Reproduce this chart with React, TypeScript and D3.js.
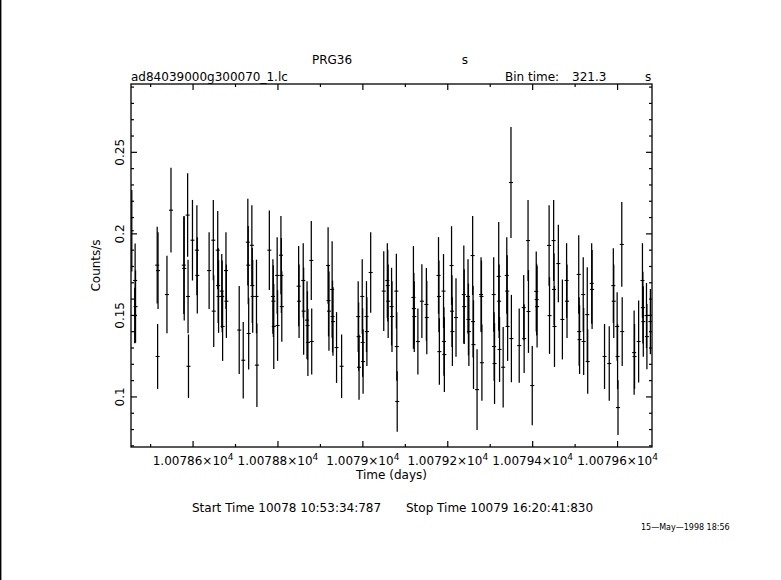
import React, { useEffect, useRef } from 'react'
import * as d3 from 'd3'

// light curve, one entry per time bin (days, counts/s, 1 sigma)
const times = [
  10078.4557, 10078.4625, 10078.4635, 10078.4645, 10078.5155, 10078.5165, 10078.5175, 10078.5385,
  10078.5480, 10078.5782, 10078.5792, 10078.5872, 10078.5882, 10078.5892, 10078.5986, 10078.6090,
  10078.6100, 10078.6378, 10078.6477, 10078.6487, 10078.6581, 10078.6591, 10078.6601, 10078.6676,
  10078.6686, 10078.6696, 10078.6775, 10078.6785, 10078.7087, 10078.7182, 10078.7290, 10078.7300,
  10078.7310, 10078.7385, 10078.7395, 10078.7405, 10078.7494, 10078.7504, 10078.7797, 10078.7881,
  10078.7891, 10078.7901, 10078.7981, 10078.7991, 10078.8070, 10078.8080, 10078.8090, 10078.8487,
  10078.8497, 10078.8595, 10078.8605, 10078.8685, 10078.8695, 10078.8705, 10078.8785, 10078.8795,
  10078.9181, 10078.9191, 10078.9201, 10078.9276, 10078.9286, 10078.9296, 10078.9380, 10078.9499,
  10078.9890, 10078.9900, 10078.9910, 10078.9985, 10078.9995, 10079.0005, 10079.0085, 10079.0095,
  10079.0184, 10079.0492, 10079.0576, 10079.0586, 10079.0596, 10079.0676, 10079.0686, 10079.0789,
  10079.0799, 10079.0809, 10079.1191, 10079.1201, 10079.1211, 10079.1296, 10079.1390, 10079.1496,
  10079.1506, 10079.1782, 10079.1792, 10079.1802, 10079.1900, 10079.1910, 10079.1920, 10079.2089,
  10079.2099, 10079.2109, 10079.2194, 10079.2378, 10079.2388, 10079.2477, 10079.2487, 10079.2497,
  10079.2586, 10079.2596, 10079.2606, 10079.2690, 10079.2784, 10079.2794, 10079.2804, 10079.3082,
  10079.3092, 10079.3102, 10079.3200, 10079.3210, 10079.3220, 10079.3305, 10079.3390, 10079.3400,
  10079.3410, 10079.3489, 10079.3499, 10079.3683, 10079.3789, 10079.3799, 10079.3891, 10079.3901,
  10079.3990, 10079.4084, 10079.4094, 10079.4104, 10079.4387, 10079.4397, 10079.4494, 10079.4504,
  10079.4514, 10079.4605, 10079.4700, 10079.4799, 10079.4809, 10079.5085, 10079.5095, 10079.5105,
  10079.5191, 10079.5201, 10079.5286, 10079.5296, 10079.5390, 10079.5400, 10079.5693, 10079.5804,
  10079.5900, 10079.5910, 10079.5990, 10079.6000, 10079.6010, 10079.6099, 10079.6109, 10079.6390,
  10079.6400, 10079.6496, 10079.6586, 10079.6596, 10079.6606, 10079.6681, 10079.6691, 10079.6773,
]

const rates = [
  0.2019, 0.1499, 0.1714, 0.1554, 0.1808, 0.1248, 0.1775, 0.1628,
  0.2145, 0.1808, 0.1788, 0.2115, 0.1616, 0.1188, 0.1961, 0.1900,
  0.1745, 0.1775, 0.1961, 0.1526, 0.1900, 0.1683, 0.1616, 0.1649,
  0.1616, 0.1432, 0.1775, 0.1587, 0.1410, 0.1225, 0.1949, 0.1808,
  0.1389, 0.1930, 0.1683, 0.1616, 0.1616, 0.1195, 0.1900, 0.1616,
  0.1587, 0.1432, 0.1745, 0.1438, 0.1869, 0.1745, 0.1554, 0.1679,
  0.1587, 0.1714, 0.1526, 0.1471, 0.1438, 0.1334, 0.1837, 0.1340,
  0.1806, 0.1591, 0.1526, 0.1659, 0.1493, 0.1462, 0.1303, 0.1188,
  0.1493, 0.1370, 0.1182, 0.1616, 0.1334, 0.1217, 0.1493, 0.1401,
  0.1763, 0.1649, 0.1714, 0.1683, 0.1587, 0.1554, 0.1493, 0.1649,
  0.1309, 0.0972, 0.1610, 0.1542, 0.1493, 0.1340, 0.1587, 0.1567,
  0.1487, 0.1745, 0.1616, 0.1278, 0.1649, 0.1340, 0.1260, 0.1806,
  0.1526, 0.1401, 0.1487, 0.1628, 0.1554, 0.1616, 0.1475, 0.1401,
  0.1867, 0.1462, 0.1321, 0.1045, 0.1628, 0.1616, 0.1210, 0.1628,
  0.1309, 0.1205, 0.1739, 0.1587, 0.1291, 0.1182, 0.1745, 0.1649,
  0.1432, 0.2315, 0.1358, 0.1315, 0.1548, 0.1358, 0.1959, 0.1524,
  0.1070, 0.1647, 0.1597, 0.1554, 0.1929, 0.1499, 0.1959, 0.1659,
  0.1432, 0.1818, 0.1475, 0.1714, 0.1587, 0.1751, 0.1401, 0.1352,
  0.1628, 0.1340, 0.1505, 0.1217, 0.1696, 0.1659, 0.1248, 0.1205,
  0.1683, 0.1587, 0.1432, 0.1248, 0.0935, 0.1935, 0.1401, 0.1272,
  0.1248, 0.1340, 0.1714, 0.1548, 0.1462, 0.1499, 0.1370, 0.1462,
]

const errors = [
  0.0250, 0.0170, 0.0227, 0.0222, 0.0235, 0.0199, 0.0235, 0.0238,
  0.0260, 0.0300, 0.0320, 0.0256, 0.0226, 0.0195, 0.0247, 0.0276,
  0.0234, 0.0235, 0.0246, 0.0220, 0.0240, 0.0230, 0.0223, 0.0227,
  0.0220, 0.0211, 0.0235, 0.0225, 0.0270, 0.0235, 0.0266, 0.0240,
  0.0220, 0.0246, 0.0230, 0.0223, 0.0226, 0.0256, 0.0244, 0.0229,
  0.0220, 0.0260, 0.0235, 0.0217, 0.0240, 0.0230, 0.0216, 0.0246,
  0.0225, 0.0229, 0.0268, 0.0239, 0.0210, 0.0205, 0.0242, 0.0203,
  0.0235, 0.0220, 0.0243, 0.0296, 0.0220, 0.0210, 0.0217, 0.0195,
  0.0217, 0.0210, 0.0200, 0.0229, 0.0210, 0.0198, 0.0217, 0.0211,
  0.0247, 0.0245, 0.0229, 0.0220, 0.0225, 0.0238, 0.0217, 0.0229,
  0.0210, 0.0186, 0.0315, 0.0220, 0.0217, 0.0203, 0.0226, 0.0223,
  0.0225, 0.0235, 0.0220, 0.0204, 0.0227, 0.0210, 0.0229, 0.0241,
  0.0220, 0.0211, 0.0241, 0.0300, 0.0229, 0.0229, 0.0220, 0.0211,
  0.0242, 0.0220, 0.0272, 0.0248, 0.0229, 0.0220, 0.0234, 0.0229,
  0.0210, 0.0248, 0.0333, 0.0225, 0.0199, 0.0247, 0.0235, 0.0220,
  0.0211, 0.0340, 0.0268, 0.0228, 0.0200, 0.0211, 0.0248, 0.0254,
  0.0243, 0.0245, 0.0220, 0.0251, 0.0247, 0.0235, 0.0248, 0.0220,
  0.0248, 0.0238, 0.0245, 0.0229, 0.0225, 0.0241, 0.0210, 0.0211,
  0.0229, 0.0205, 0.0291, 0.0198, 0.0247, 0.0242, 0.0199, 0.0229,
  0.0229, 0.0225, 0.0210, 0.0200, 0.0168, 0.0260, 0.0211, 0.0258,
  0.0199, 0.0252, 0.0229, 0.0220, 0.0216, 0.0200, 0.0200, 0.0200,
]

const timeDomain = [10078.4538, 10079.6811]
const rateDomain = [0.0693, 0.2919]
const yMajor = [0.1, 0.15, 0.2, 0.25]
const xMajor = [10078.6, 10078.8, 10079.0, 10079.2, 10079.4, 10079.6]

export default function App() {
  const ref = useRef<SVGSVGElement | null>(null)

  const width = 781
  const height = 580
  const margin = { top: 84, right: 129, bottom: 133, left: 131 }
  const font = "'DejaVu Sans', Verdana, sans-serif"

  function draw() {
    var svg = d3.select(ref.current)
    svg.selectAll('*').remove()

    var x = d3.scaleLinear().domain(timeDomain).range([margin.left, width - margin.right])
    var y = d3.scaleLinear().domain(rateDomain).range([height - margin.bottom, margin.top])

    var x0 = margin.left, x1 = width - margin.right
    var y0 = height - margin.bottom, y1 = margin.top

    svg.append('rect')
      .attr('x', 0).attr('y', 0).attr('width', width).attr('height', height)
      .attr('fill', '#fff')
    // left page edge
    svg.append('line')
      .attr('x1', 0.7).attr('x2', 0.7).attr('y1', 0).attr('y2', height)
      .attr('stroke', '#000').attr('stroke-width', 1.4)

    var g = svg.append('g').attr('stroke', '#000').attr('fill', 'none')

    // frame
    g.append('rect')
      .attr('x', x0).attr('y', y1).attr('width', x1 - x0).attr('height', y0 - y1)
      .attr('stroke-width', 1.3)

    // x ticks: labelled every 0.2 d, minor every 0.1 d
    var xMinor = d3.range(0, 13).map(i => 10078.5 + i * 0.1).filter(t => t > timeDomain[0] && t < timeDomain[1])
    xMinor.forEach(t => {
      var major = xMajor.some(m => Math.abs(m - t) < 1e-6)
      var len = major ? 6 : 3
      g.append('line').attr('x1', x(t)).attr('x2', x(t)).attr('y1', y0).attr('y2', y0 - len).attr('stroke-width', 1.2)
      g.append('line').attr('x1', x(t)).attr('x2', x(t)).attr('y1', y1).attr('y2', y1 + len).attr('stroke-width', 1.2)
    })

    // y ticks: labelled every 0.05, minor every 0.01
    var yMinor = d3.range(7, 30).map(i => i / 100).filter(v => v > rateDomain[0] && v < rateDomain[1])
    yMinor.forEach(v => {
      var major = yMajor.some(m => Math.abs(m - v) < 1e-6)
      var len = major ? 6 : 3
      g.append('line').attr('x1', x0).attr('x2', x0 + len).attr('y1', y(v)).attr('y2', y(v)).attr('stroke-width', 1.2)
      g.append('line').attr('x1', x1).attr('x2', x1 - len).attr('y1', y(v)).attr('y2', y(v)).attr('stroke-width', 1.2)
    })

    // error bars
    var pts = times.map((t, i) => ({ t: t, r: rates[i], e: errors[i] }))
    var bars = g.append('g').attr('stroke-width', 1.25)
    bars.selectAll('line.err')
      .data(pts)
      .enter().append('line')
      .attr('class', 'err')
      .attr('x1', d => x(d.t)).attr('x2', d => x(d.t))
      .attr('y1', d => Math.max(y1, y(d.r + d.e)))
      .attr('y2', d => Math.min(y0, y(d.r - d.e)))
    bars.selectAll('line.bin')
      .data(pts)
      .enter().append('line')
      .attr('class', 'bin')
      .attr('x1', d => Math.max(x0, x(d.t) - 2)).attr('x2', d => Math.min(x1, x(d.t) + 2))
      .attr('y1', d => y(d.r)).attr('y2', d => y(d.r))
      .attr('stroke-width', 1.1)

    var txt = svg.append('g').attr('font-family', font).attr('fill', '#000').attr('font-size', 12)

    // y labels (rotated like the original)
    yMajor.forEach(v => {
      txt.append('text')
        .attr('transform', 'translate(' + 124 + ',' + y(v) + ') rotate(-90)')
        .attr('text-anchor', 'middle')
        .text(String(+v.toFixed(2)))
    })
    txt.append('text')
      .attr('transform', 'translate(' + 100 + ',' + (y1 + y0) / 2 + ') rotate(-90)')
      .attr('text-anchor', 'middle')
      .text('Counts/s')

    // x labels
    xMajor.forEach(t => {
      var lab = txt.append('text')
        .attr('x', x(t)).attr('y', y0 + 18)
        .attr('text-anchor', 'middle')
      lab.append('tspan').text(String(+(t / 1e4).toFixed(5)) + '\u00d710')
      lab.append('tspan').attr('dy', -5).attr('font-size', 9).text('4')
    })
    txt.append('text')
      .attr('x', (x0 + x1) / 2).attr('y', y0 + 32)
      .attr('text-anchor', 'middle')
      .text('Time (days)')

    // header
    txt.append('text').attr('x', 332).attr('y', 64).attr('text-anchor', 'middle').text('PRG36')
    txt.append('text').attr('x', 465).attr('y', 64).attr('text-anchor', 'middle').text('s')
    txt.append('text').attr('x', x0).attr('y', 81).text('ad84039000g300070_1.lc')
    txt.append('text').attr('x', 505).attr('y', 81).text('Bin time:')
    txt.append('text').attr('x', 572).attr('y', 81).text('321.3')
    txt.append('text').attr('x', 645).attr('y', 81).text('s')

    // footer
    txt.append('text').attr('x', 192).attr('y', 512)
      .text('Start Time 10078 10:53:34:787')
    txt.append('text').attr('x', 406).attr('y', 512)
      .text('Stop Time 10079 16:20:41:830')
    txt.append('text').attr('x', 641).attr('y', 530).attr('font-size', 8)
      .text('15\u2014May\u20141998 18:56')
  }

  useEffect(() => {
    draw()
  }, [])

  return (
    <svg
      ref={ref}
      width={width}
      height={height}
      style={{ position: 'absolute', left: 0, top: 0, display: 'block' }}
    />
  )
}
